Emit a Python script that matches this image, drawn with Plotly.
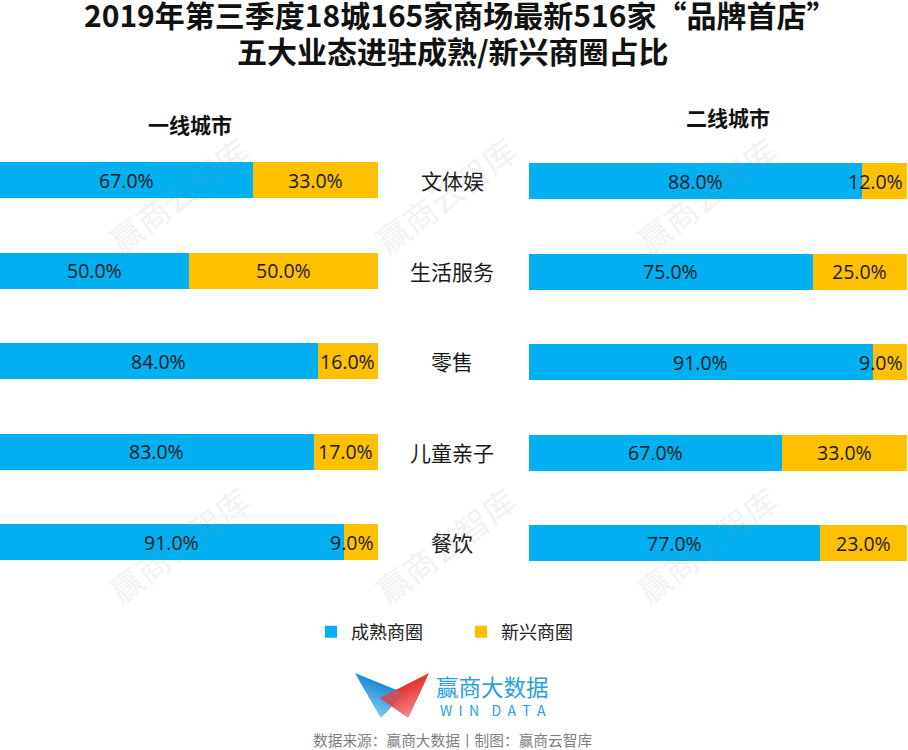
import plotly.graph_objects as go

categories = ["文体娱", "生活服务", "零售", "儿童亲子", "餐饮"]
tier1_mature = [67, 50, 84, 83, 91]
tier1_emerging = [33, 50, 16, 17, 9]
tier2_mature = [88, 75, 91, 67, 77]
tier2_emerging = [12, 25, 9, 33, 23]
series_names = ["成熟商圈", "新兴商圈"]
panel_titles = ["一线城市", "二线城市"]
title_lines = ["2019年第三季度18城165家商场最新516家“品牌首店”", "五大业态进驻成熟/新兴商圈占比"]
source_text = "数据来源：赢商大数据丨制图：赢商云智库"
watermark = "赢商云智库"
logo_cn = "赢商大数据"
logo_en = "W\u00a0\u00a0I\u00a0\u00a0N\u00a0\u00a0\u00a0\u00a0D\u00a0\u00a0A\u00a0\u00a0T\u00a0\u00a0A"

W, H = 908, 750
BLUE, GOLD = "#00B0F0", "#FFC000"
CJK = "Noto Sans CJK SC, Open Sans, sans-serif"
NUM = "Open Sans, Noto Sans CJK SC, sans-serif"
TXT = "#1a1a1a"


def px(v): return v / W
def py(v): return 1 - v / H


fig = go.Figure()
fig.add_bar(y=categories, x=tier1_mature, name=series_names[0], orientation="h",
            marker=dict(color=BLUE, line_width=0), xaxis="x", yaxis="y", legendgroup="a")
fig.add_bar(y=categories, x=tier1_emerging, name=series_names[1], orientation="h",
            marker=dict(color=GOLD, line_width=0), xaxis="x", yaxis="y", legendgroup="b")
fig.add_bar(y=categories, x=tier2_mature, name=series_names[0], orientation="h", showlegend=False,
            marker=dict(color=BLUE, line_width=0), xaxis="x2", yaxis="y2", legendgroup="a")
fig.add_bar(y=categories, x=tier2_emerging, name=series_names[1], orientation="h", showlegend=False,
            marker=dict(color=GOLD, line_width=0), xaxis="x2", yaxis="y2", legendgroup="b")

ann = []


def note(x, y, text, size, color=TXT, family=CJK, **kw):
    ann.append(dict(x=px(x), y=py(y), xref="paper", yref="paper", text=text, showarrow=False,
                    xanchor="center", yanchor="middle",
                    font=dict(size=size, color=color, family=family), **kw))


# Value labels, placed in data coordinates; narrow segments sit pulled back from the bar end
for xr, yr, mature, emerging in (("x", "y", tier1_mature, tier1_emerging),
                                 ("x2", "y2", tier2_mature, tier2_emerging)):
    for c, m, e in zip(categories, mature, emerging):
        ann.append(dict(x=m / 2, y=c, xref=xr, yref=yr, text=f"{m:.1f}%", showarrow=False,
                        xanchor="center", font=dict(size=19.5, color=TXT, family=NUM)))
        narrow = e < 15
        ann.append(dict(x=100 if narrow else m + e / 2, y=c, xref=xr, yref=yr, text=f"{e:.1f}%",
                        showarrow=False, xanchor="right" if narrow else "center",
                        xshift=-2 if narrow else 0,
                        font=dict(size=19.5, color=TXT, family=NUM)))

# Category labels between the panels
for c in categories:
    ann.append(dict(x=px(452), xref="paper", y=c, yref="y", text=c, showarrow=False, xanchor="center",
                    font=dict(size=21, color=TXT, family=CJK)))

# Title, panel headings, source
note(460, 14, f"<b>{title_lines[0]}</b>", 30, color="#111111")
note(453, 50, f"<b>{title_lines[1]}</b>", 30, color="#111111")
note(190, 124, f"<b>{panel_titles[0]}</b>", 21, color="#111111")
note(728, 117, f"<b>{panel_titles[1]}</b>", 21, color="#111111")
note(452, 739.5, source_text, 14.7, color="#7f7f7f")

# Watermarks
for x0, y0 in ((178, 195), (445, 195), (706, 195), (178, 545), (445, 545), (706, 545)):
    note(x0, y0, watermark, 33, color="rgba(150,150,150,0.14)", textangle=-37)

# Logo word marks
note(493, 685.5, logo_cn, 22.5, color="#2A9FD8")
note(493, 710, logo_en, 14, color="#2A9FD8")


def mix(c1, c2, t):
    return "#" + "".join(f"{round(a + (b - a) * t):02x}" for a, b in zip(c1, c2))


def outline(pts):
    return "M" + " L".join(f"{px(x):.5f},{py(y):.5f}" for x, y in pts) + " Z"


def wing(a, b, tip, c1, c2, n=12):
    """Logo wing: nested triangles shrinking towards the tip, stepping the colour, so no seams show."""
    out = []
    for i in range(n):
        t = i / n
        lerp = lambda p: (p[0] + (tip[0] - p[0]) * t, p[1] + (tip[1] - p[1]) * t)
        out.append(dict(type="path", xref="paper", yref="paper", layer="above", line_width=0,
                        fillcolor=mix(c1, c2, t), path=outline([lerp(a), lerp(b), tip])))
    return out


shapes = (wing((355, 673), (404, 693), (381, 717), (0x22, 0x8E, 0xD8), (0x80, 0xCD, 0xF2))
          + wing((429, 673), (380, 698), (408, 717), (0xE5, 0x35, 0x32), (0xF1, 0x8E, 0x8E))
          + [dict(type="path", xref="paper", yref="paper", layer="above", line_width=0, fillcolor="#C8505C",
                  path=outline([(380, 698), (396.3, 689.9), (404, 693), (391.7, 706)]))])

fig.update_layout(
    width=W, height=H, margin=dict(l=0, r=0, t=0, b=0), autosize=False,
    paper_bgcolor="white", plot_bgcolor="white", barmode="stack", bargap=0.6,
    showlegend=True,
    legend=dict(orientation="h", x=px(311), y=py(632), xanchor="left", yanchor="middle",
                entrywidth=105, entrywidthmode="pixels", itemsizing="constant",
                font=dict(size=18, color="#222222", family=CJK), bgcolor="rgba(0,0,0,0)"),
    xaxis=dict(domain=[0, px(378)], range=[0, 100], visible=False),
    xaxis2=dict(domain=[px(529), px(907)], range=[0, 100], visible=False),
    yaxis=dict(domain=[py(587.5), py(135)], autorange="reversed", visible=False, type="category",
               categoryorder="array", categoryarray=categories),
    yaxis2=dict(domain=[py(588.5), py(136)], autorange="reversed", visible=False, type="category",
                categoryorder="array", categoryarray=categories),
    annotations=ann, shapes=shapes,
)
fig.write_html("out.html", config={"displayModeBar": False}, post_script="document.body.style.margin='0';")
